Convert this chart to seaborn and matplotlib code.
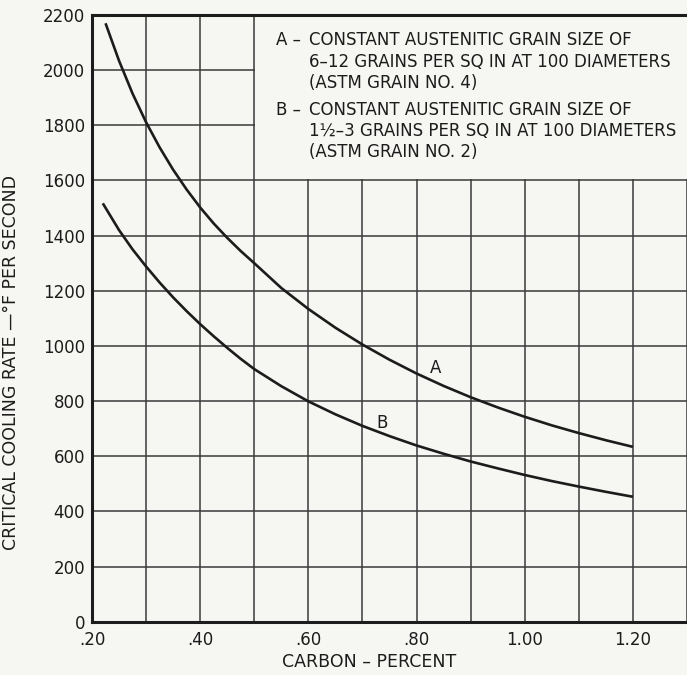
import numpy as np
import pandas as pd
import matplotlib
matplotlib.use("Agg")
import matplotlib.pyplot as plt
from matplotlib.patches import Rectangle
import seaborn as sns

# ---- data ----
carbon_a = [0.225, 0.25, 0.275, 0.30, 0.325, 0.35, 0.375, 0.40, 0.425, 0.45, 0.475,
            0.50, 0.55, 0.60, 0.65, 0.70, 0.75, 0.80, 0.85, 0.90, 0.95, 1.00,
            1.05, 1.10, 1.15, 1.20]
rate_a = [2170, 2034, 1915, 1811, 1720, 1639, 1567, 1502, 1444, 1392, 1344,
          1300, 1210, 1134, 1066, 1005, 950, 900, 855, 814, 777, 743,
          712, 684, 658, 634]

carbon_b = [0.22, 0.25, 0.275, 0.30, 0.325, 0.35, 0.375, 0.40, 0.425, 0.45, 0.475,
            0.50, 0.55, 0.60, 0.65, 0.70, 0.75, 0.80, 0.85, 0.90, 0.95, 1.00,
            1.05, 1.10, 1.15, 1.20]
rate_b = [1517, 1420, 1350, 1288, 1230, 1176, 1126, 1079, 1035, 993, 953,
          916, 854, 799, 752, 710, 673, 639, 609, 581, 556, 532,
          510, 490, 471, 453]

x_ticks = [0.20, 0.40, 0.60, 0.80, 1.00, 1.20]
x_tick_labels = [".20", ".40", ".60", ".80", "1.00", "1.20"]
y_ticks = list(range(0, 2201, 200))

legend_prefix = ["A –", "", "", "B –", "", ""]
legend_body = [
    "CONSTANT AUSTENITIC GRAIN SIZE OF",
    "6–12 GRAINS PER SQ IN AT 100 DIAMETERS",
    "(ASTM GRAIN NO. 4)",
    "CONSTANT AUSTENITIC GRAIN SIZE OF",
    "1½–3 GRAINS PER SQ IN AT 100 DIAMETERS",
    "(ASTM GRAIN NO. 2)",
]

df = pd.concat([
    pd.DataFrame({"carbon": carbon_a, "rate": rate_a, "curve": "A"}),
    pd.DataFrame({"carbon": carbon_b, "rate": rate_b, "curve": "B"}),
])

# ---- style ----
sns.set_style("white")
plt.rcParams["font.family"] = ["DejaVu Sans"]
paper = "#f6f6f3"
ink = "#1c1c1c"

fig = plt.figure(figsize=(6.87, 6.75), dpi=100, facecolor=paper)
ax = fig.add_axes([92 / 687, 53.3 / 675, 595 / 687, 606.7 / 675])
ax.set_facecolor(paper)

xmax = 1.292
ax.set_xlim(0.2, xmax)
ax.set_ylim(0, 2200)

# grid
ax.set_axisbelow(True)
ax.set_xticks(x_ticks)
ax.set_xticklabels(x_tick_labels)
ax.set_xticks(np.arange(0.3, 1.31, 0.1), minor=True)
ax.set_yticks(y_ticks)
ax.grid(True, which="both", color="#3a3a3a", linewidth=1.1)
ax.tick_params(axis="both", which="both", length=0, labelsize=12, colors=ink)
ax.tick_params(axis="x", pad=7)
ax.tick_params(axis="y", pad=5)

# blank area behind the legend text
ax.add_patch(Rectangle((0.5015, 1604), 1.0, 700, facecolor=paper,
                       edgecolor="none", zorder=1, clip_on=True))

sns.lineplot(data=df, x="carbon", y="rate", hue="curve", units="curve",
             estimator=None, palette={"A": ink, "B": ink}, linewidth=1.9,
             legend=False, ax=ax, zorder=3, sort=True)
for ln in ax.lines:
    ln.set_solid_joinstyle("round")
    ln.set_solid_capstyle("butt")

for side in ["left", "bottom", "top"]:
    ax.spines[side].set_linewidth(2.2)
    ax.spines[side].set_color(ink)
ax.spines["right"].set_visible(False)

ax.set_xlabel("CARBON – PERCENT", fontsize=12.5, color=ink, va="center")
ax.set_ylabel("CRITICAL COOLING RATE —°F PER SECOND", fontsize=12.5, color=ink,
              va="center")
ax.xaxis.set_label_coords((369 - 92) / 595, -(662 - 621.7) / 606.7)
ax.yaxis.set_label_coords((11 - 92) / 595, (621.7 - 362) / 606.7)

# curve labels
ax.text(0.835, 919, "A", fontsize=12, color=ink, ha="center", va="center")
ax.text(0.736, 722, "B", fontsize=12, color=ink, ha="center", va="center")

# legend text
ys = [40, 62, 83, 110, 131, 152]
for pre, body, yp in zip(legend_prefix, legend_body, ys):
    if pre:
        fig.text(276 / 687, 1 - yp / 675, pre, fontsize=12, color=ink,
                 ha="left", va="center")
    fig.text(309 / 687, 1 - yp / 675, body, fontsize=12, color=ink,
             ha="left", va="center")

fig.savefig("out.png", dpi=100, facecolor=paper)
